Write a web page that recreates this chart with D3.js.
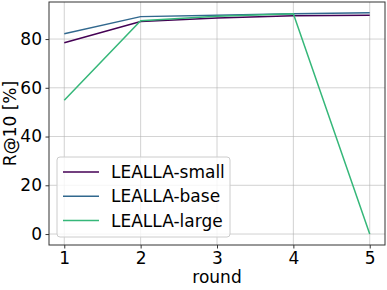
<!DOCTYPE html>
<html>
<head>
<meta charset="utf-8">
<script src="https://cdn.jsdelivr.net/npm/d3@7"></script>
<style>
  body { margin: 0; background: #fff; }
  svg { display: block; font-family: "DejaVu Sans", sans-serif; }
</style>
</head>
<body>
<svg id="chart" width="387" height="290"></svg>
<script>
// data
const rounds = [1, 2, 3, 4, 5];
const smallVals = [78.5, 87.2, 88.6, 89.6, 89.8];
const baseVals = [82.2, 89.2, 89.8, 90.4, 90.8];
const largeVals = [54.9, 87.5, 89.4, 90.4, 0];
const seriesNames = ['LEALLA-small', 'LEALLA-base', 'LEALLA-large'];
const seriesColors = ['#440154', '#31688e', '#35b779'];
const xTicks = [1, 2, 3, 4, 5];
const yTicks = [0, 20, 40, 60, 80];

const margin = { top: 2, right: 2, bottom: 45, left: 49 };
const width = 387 - margin.left - margin.right;
const height = 290 - margin.top - margin.bottom;
const fontSize = '17px';

const svg = d3.select('#chart');
const g = svg.append('g').attr('transform', `translate(${margin.left},${margin.top})`);

const x = d3.scaleLinear().domain([0.8, 5.2]).range([0, width]);
const y = d3.scaleLinear().domain([-4.5, 95.2]).range([height, 0]);

// grid
g.append('g').selectAll('line').data(xTicks).enter().append('line')
  .attr('x1', d => x(d)).attr('x2', d => x(d))
  .attr('y1', 0).attr('y2', height)
  .style('stroke', '#b0b0b0').style('stroke-width', 0.8).style('opacity', 0.7);
g.append('g').selectAll('line').data(yTicks).enter().append('line')
  .attr('x1', 0).attr('x2', width)
  .attr('y1', d => y(d)).attr('y2', d => y(d))
  .style('stroke', '#b0b0b0').style('stroke-width', 0.8).style('opacity', 0.7);

// axes
const xAxis = g.append('g').attr('transform', `translate(0,${height})`)
  .call(d3.axisBottom(x).tickValues(xTicks).tickSize(3.5).tickPadding(3.5).tickFormat(d3.format('d')));
const yAxis = g.append('g')
  .call(d3.axisLeft(y).tickValues(yTicks).tickSize(3.5).tickPadding(3.5).tickFormat(d3.format('d')));
[xAxis, yAxis].forEach(a => {
  a.select('.domain').remove();
  a.selectAll('.tick line').style('stroke', '#000').style('stroke-width', 0.8);
  a.selectAll('.tick text').style('font-size', fontSize).style('fill', '#000')
    .style('font-family', '"DejaVu Sans", sans-serif');
});

// lines
const allSeries = [smallVals, baseVals, largeVals];
const line = d3.line().x((d, i) => x(rounds[i])).y(d => y(d));
allSeries.forEach((vals, i) => {
  g.append('path').datum(vals)
    .attr('d', line)
    .style('fill', 'none')
    .style('stroke', seriesColors[i])
    .style('stroke-width', 1.5);
});

// frame
g.append('rect').attr('x', 0).attr('y', 0).attr('width', width).attr('height', height)
  .style('fill', 'none').style('stroke', '#333').style('stroke-width', 1);

// axis labels
svg.append('text')
  .attr('x', margin.left + width / 2).attr('y', 283)
  .attr('text-anchor', 'middle').style('font-size', fontSize).text('round');
svg.append('text')
  .attr('transform', `translate(16,${margin.top + height / 2}) rotate(-90)`)
  .attr('text-anchor', 'middle').style('font-size', fontSize).text('R@10 [%]');

// legend
const legend = g.append('g').attr('transform', 'translate(8,155)');
legend.append('rect').attr('width', 173).attr('height', 80).attr('rx', 3)
  .style('fill', '#fff').style('fill-opacity', 0.8)
  .style('stroke', '#ccc').style('stroke-width', 1);
seriesNames.forEach((name, i) => {
  const row = legend.append('g').attr('transform', `translate(0,${15 + i * 24.3})`);
  row.append('line').attr('x1', 6).attr('x2', 42).attr('y1', 0).attr('y2', 0)
    .style('stroke', seriesColors[i]).style('stroke-width', 1.5);
  row.append('text').attr('x', 54).attr('y', 0).attr('dy', '0.35em')
    .style('font-size', fontSize).text(name);
});
</script>
</body>
</html>
